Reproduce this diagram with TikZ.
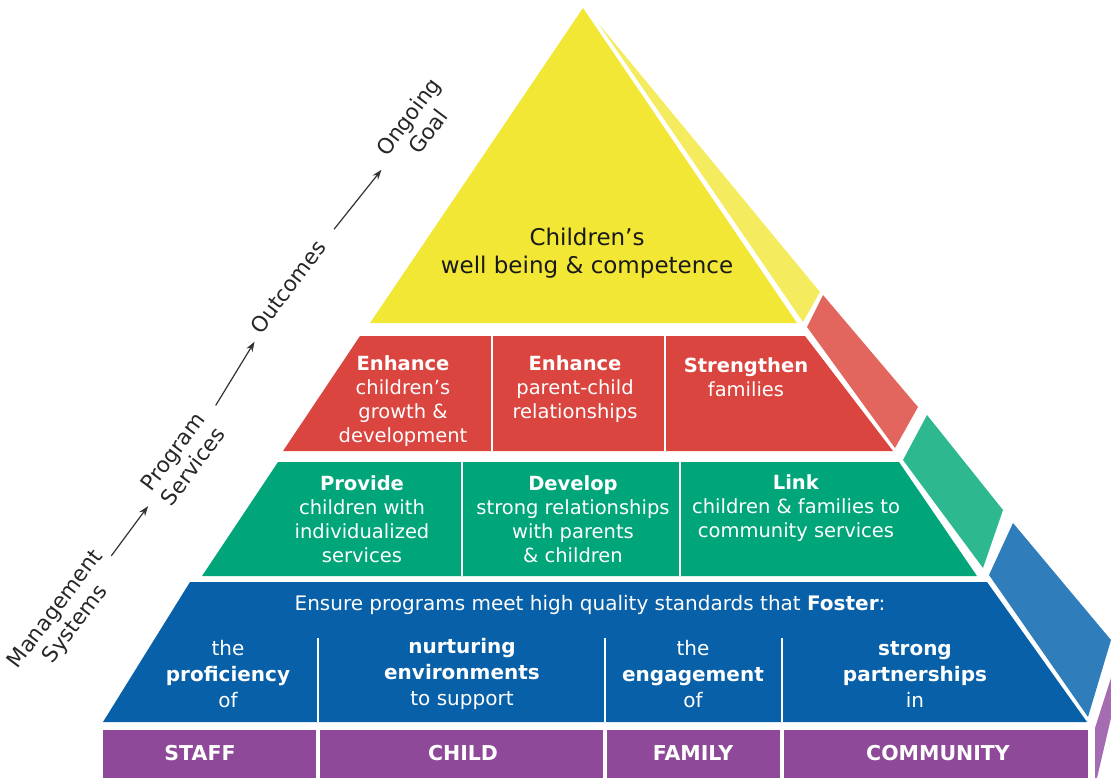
\documentclass[tikz,border=0pt]{standalone}
\usepackage{fontspec}
\setmainfont{DejaVu Sans}
\usetikzlibrary{arrows.meta}

\definecolor{yfront}{HTML}{F2E735}
\definecolor{yside}{HTML}{F4EC5E}
\definecolor{rfront}{HTML}{DB4540}
\definecolor{rside}{HTML}{E2665E}
\definecolor{gfront}{HTML}{00A67A}
\definecolor{gside}{HTML}{2DB88F}
\definecolor{bfront}{HTML}{0860A8}
\definecolor{bside}{HTML}{2F7DBA}
\definecolor{pfront}{HTML}{8E4A98}
\definecolor{pside}{HTML}{A66CB2}

\begin{document}
\begin{tikzpicture}[x=1pt, y=-1pt,
        band/.style={text=white, align=center, font=\fontsize{19.5}{24}\selectfont},
        foster/.style={text=white, align=center, font=\fontsize{20}{26}\selectfont},
        tag/.style={text=white, font=\fontsize{20.5}{24}\selectfont\bfseries},
        stage/.style={text=black!85, align=center, rotate=53, inner sep=3pt, font=\fontsize{21.5}{25}\selectfont},
        stagearrow/.style={-{Stealth[length=10pt,width=7pt]}, black!80, line width=1.2pt}]

            \useasboundingbox (0,0) rectangle (1111,778);

            \fill[yfront] (583,8) -- (797,323) -- (370,323) -- cycle;
            \fill[yside] (598,23) -- (820,292) -- (803,322) -- cycle;

            \fill[rfront] (360,336) -- (805,336) -- (893,451) -- (283,451) -- cycle;
            \fill[rside] (807,327) -- (823,295) -- (918,407) -- (895,448) -- cycle;

            \fill[gfront] (278,462) -- (899,462) -- (977,576) -- (202,576) -- cycle;
            \fill[gside] (903,460) -- (927,415) -- (1003,510) -- (983,568) -- cycle;

            \fill[bfront] (190,582) -- (987,582) -- (1087,722) -- (103,722) -- cycle;
            \fill[bside] (989,575) -- (1013,523) -- (1111,640) -- (1088,717) -- cycle;

            \fill[pfront] (103,730) rectangle (1088,778);
            \fill[pside] (1095,728) -- (1111,678) -- (1111,718) -- (1097,778) -- (1095,778) -- cycle;

            \draw[white, line width=2.5pt] (492,336) -- (492,451);
            \draw[white, line width=2.5pt] (665,336) -- (665,451);
            \draw[white, line width=2pt] (462,462) -- (462,576);
            \draw[white, line width=2pt] (680,462) -- (680,576);
            \draw[white, line width=2pt] (318,638) -- (318,722);
            \draw[white, line width=2pt] (605,638) -- (605,722);
            \draw[white, line width=2pt] (782,638) -- (782,722);
            \draw[white, line width=3.5pt] (318,730) -- (318,778);
            \draw[white, line width=3.5pt] (605,730) -- (605,778);
            \draw[white, line width=3.5pt] (782,730) -- (782,778);

            \node[text=black!90, align=center, font=\fontsize{23}{28}\selectfont] (goal) at (587,253) {Children’s\\well being \& competence};

            \node[band] (growth) at (403,401) {\textbf{Enhance}\\children’s\\growth \&\\development};
            \node[band] (parent) at (575,389) {\textbf{Enhance}\\parent-child\\relationships};
            \node[band] (families) at (746,377) {\textbf{Strengthen}\\families};

            \node[band] (provide) at (362,519) {\textbf{Provide}\\children with\\individualized\\services};
            \node[band] (develop) at (573,519) {\textbf{Develop}\\strong relationships\\with parents\\\& children};
            \node[band] (link) at (796,508) {\textbf{Link}\\children \& families to\\community services};

            \node[foster] (ensure) at (590,605) {Ensure programs meet high quality standards that \textbf{Foster}:};
            \node[foster] (proficiency) at (228,674) {the\\\textbf{proficiency}\\of};
            \node[foster] (nurturing) at (462,674) {\textbf{nurturing}\\\textbf{environments}\\to support};
            \node[foster] (engagement) at (693,674) {the\\\textbf{engagement}\\of};
            \node[foster] (partnerships) at (915,674) {\textbf{strong}\\\textbf{partnerships}\\in};

            \node[tag] (staff) at (200,753) {STAFF};
            \node[tag] (child) at (463,753) {CHILD};
            \node[tag] (family) at (693,753) {FAMILY};
            \node[tag] (community) at (938,753) {COMMUNITY};

            \node[stage] (mgmt) at (66,617) {Management\\Systems};
            \node[stage] (prog) at (183,459) {Program\\Services};
            \node[stage] (outcomes) at (288,287) {Outcomes};
            \node[stage] (ongoing) at (418,124) {Ongoing\\Goal};

            \draw[stagearrow, shorten <=2pt, shorten >=10pt] (mgmt) -- (prog);
            \draw[stagearrow, shorten <=14pt, shorten >=6pt] (prog) -- (outcomes);
            \draw[stagearrow, shorten <=16pt, shorten >=10pt] (outcomes) -- (ongoing);
        \end{tikzpicture}
\end{document}
